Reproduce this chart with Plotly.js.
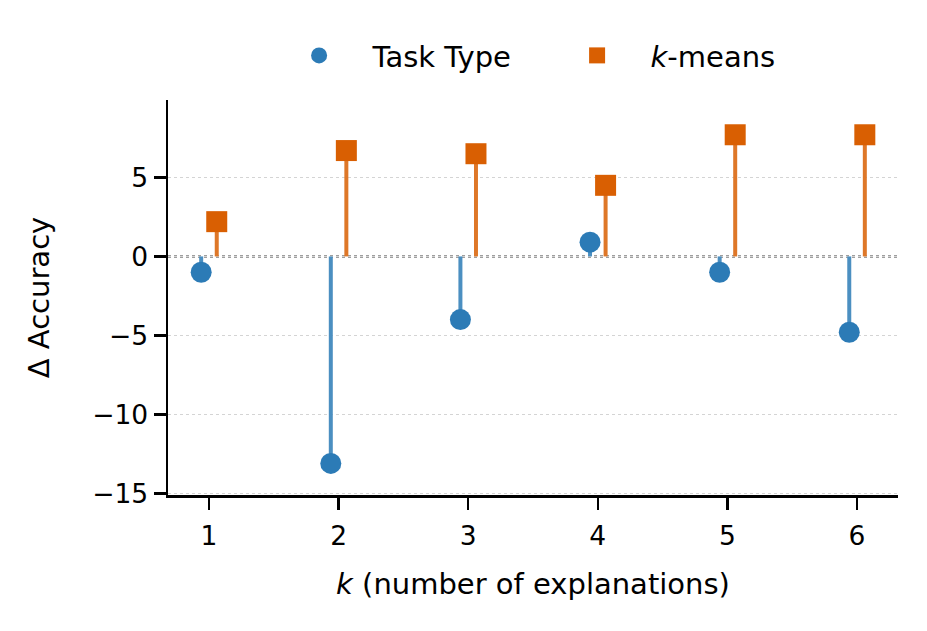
<!DOCTYPE html>
<html>
<head>
<meta charset="utf-8">
<script src="https://cdn.plot.ly/plotly-3.0.1.min.js"></script>
<style>html,body{margin:0;padding:0;background:#fff;}#chart{width:927px;height:631px;}</style>
</head>
<body>
<div id="chart"></div>
<script>
// Data
var kValues = [1, 2, 3, 4, 5, 6];
var taskTypeDelta = [-1.0, -13.1, -4.0, 0.9, -1.0, -4.8];
var kmeansDelta = [2.2, 6.7, 6.5, 4.5, 7.7, 7.7];
var xTickLabels = ['1', '2', '3', '4', '5', '6'];
var seriesNames = ['Task Type', '<i>k</i>-means'];

var OFFSET = 0.06;
var BLUE = '#2c7bb6', BLUE_STEM = '#4b8fc1';
var ORANGE = '#d95f02', ORANGE_STEM = '#de7728';
var FONT = 'DejaVu Sans, Verdana, sans-serif';
var TICK_SIZE = 26.5, LABEL_SIZE = 29;

function shifted(xs, d) { return xs.map(function (v) { return v + d; }); }
function stems(xs, ys) {
  var sx = [], sy = [];
  for (var i = 0; i < xs.length; i++) { sx.push(xs[i], xs[i], null); sy.push(0, ys[i], null); }
  return {x: sx, y: sy};
}

var xTask = shifted(kValues, -OFFSET);
var xKm = shifted(kValues, OFFSET);
var sTask = stems(xTask, taskTypeDelta);
var sKm = stems(xKm, kmeansDelta);
var PAD = '\u00a0\u00a0\u00a0\u2009';

var traces = [
  {x: sTask.x, y: sTask.y, mode: 'lines', line: {color: BLUE_STEM, width: 4}, showlegend: false, hoverinfo: 'skip'},
  {x: sKm.x, y: sKm.y, mode: 'lines', line: {color: ORANGE_STEM, width: 4}, showlegend: false, hoverinfo: 'skip'},
  {x: xTask, y: taskTypeDelta, mode: 'markers', name: PAD + seriesNames[0],
   marker: {symbol: 'circle', size: 21, color: BLUE, line: {width: 0}}},
  {x: xKm, y: kmeansDelta, mode: 'markers', name: PAD + seriesNames[1],
   marker: {symbol: 'square', size: 21, color: ORANGE, line: {width: 0}}}
];

var layout = {
  width: 927, height: 631,
  paper_bgcolor: '#fff', plot_bgcolor: '#fff',
  margin: {l: 168, r: 29, t: 100, b: 136},
  font: {family: FONT, size: TICK_SIZE, color: '#000'},
  showlegend: true,
  legend: {orientation: 'h', x: 0.5604, xanchor: 'center', y: 1.048, yanchor: 'bottom',
           font: {family: FONT, size: LABEL_SIZE, color: '#000'}, entrywidth: 233, bgcolor: 'rgba(0,0,0,0)'},
  xaxis: {
    range: [0.684, 6.316], tickvals: kValues, ticktext: xTickLabels,
    showgrid: false, zeroline: false,
    showline: true, linecolor: '#000', linewidth: 2.5,
    ticks: 'outside', ticklen: 12, tickwidth: 2.5, tickcolor: '#000',
    ticklabelstandoff: 4,
    tickfont: {family: FONT, size: TICK_SIZE},
    title: {text: '<i>k</i> (number of explanations)', font: {family: FONT, size: LABEL_SIZE}, standoff: 24}
  },
  yaxis: {
    range: [-15.1, 9.9], tickvals: [-15, -10, -5, 0, 5],
    showgrid: true, gridcolor: '#d4d4d4', gridwidth: 1, griddash: 'dot',
    zeroline: false,
    showline: true, linecolor: '#000', linewidth: 2.5,
    ticks: 'outside', ticklen: 12, tickwidth: 2.5, tickcolor: '#000',
    tickfont: {family: FONT, size: TICK_SIZE},
    title: {text: '\u0394 Accuracy', font: {family: FONT, size: LABEL_SIZE}, standoff: 34}
  },
  shapes: [{type: 'line', xref: 'paper', x0: 0, x1: 1, yref: 'y', y0: 0, y1: 0,
            line: {color: '#808080', width: 2.5, dash: 'dot'}, layer: 'below'}]
};

Plotly.newPlot('chart', traces, layout, {displayModeBar: false, staticPlot: true});
</script>
</body>
</html>
